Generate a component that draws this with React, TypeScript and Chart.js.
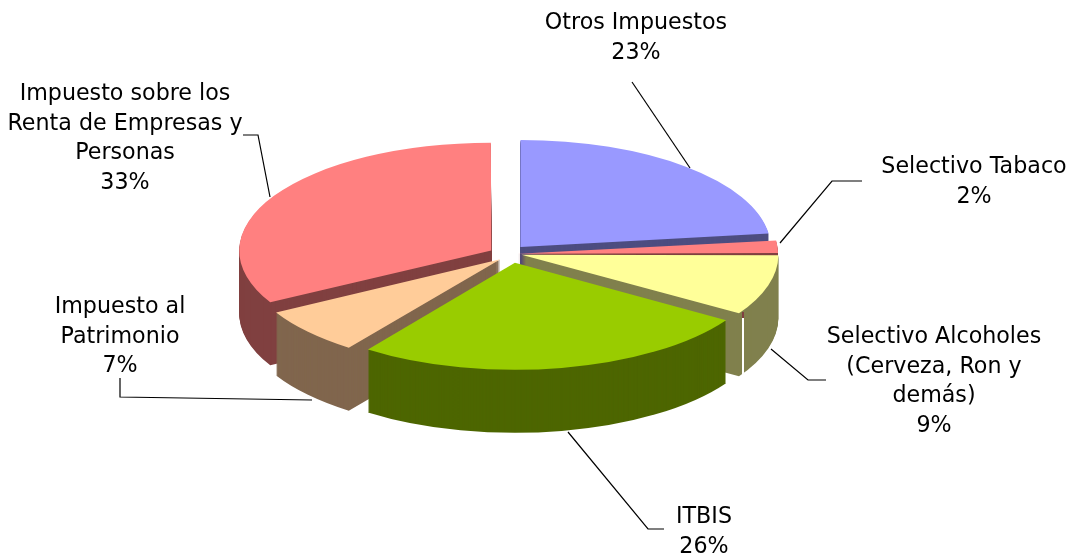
import React, { useEffect, useRef } from "react";
import { Chart, registerables } from "chart.js";

Chart.register(...registerables);

const categories = [
  ["Otros Impuestos"],
  ["Selectivo Tabaco"],
  ["Selectivo Alcoholes", "(Cerveza, Ron y", "demás)"],
  ["ITBIS"],
  ["Impuesto al", "Patrimonio"],
  ["Impuesto sobre los", "Renta de Empresas y", "Personas"],
];
const values = [23, 2, 9, 26, 7, 33];
const topColors = ["#9999FF", "#FF8080", "#FFFF99", "#99CC00", "#FFCC99", "#FF8080"];
const sideColors = ["#4D4D80", "#804040", "#80804D", "#4D6600", "#80664D", "#804040"];

// how far each slice is pulled out of the pie, in px of the round pie
const explode = [22, 22, 22, 21, 18, 18];
// small screen-space corrections that stand in for the original's perspective
const nudgeX = [0, 0, 1, 5, 3, -1];
const nudgeY = [0, 0, -1, 0, 2, 0];
// back-to-front painting order of the extruded walls
const wallOrder = [0, 1, 5, 2, 4, 3];

const SQUASH = 0.428;
const DEPTH = 63;
const RADIUS = 250;
const FONT = '22.2px "DejaVu Sans"';
const LINE_H = 29.8;

// label anchor: centre x, centre y of first line
const labelPos = [
  [636, 23],
  [974, 167],
  [934, 337],
  [704, 517],
  [120, 307],
  [125, 94],
];
const leaders = [
  [[632, 82], [690, 168]],
  [[862, 181], [832, 181], [780, 243]],
  [[826, 380], [808, 380], [771, 349]],
  [[664, 529], [648, 529], [568, 432]],
  [[120, 378], [120, 397], [312, 400]],
  [[243, 135], [258, 135], [270, 197]],
];

// Chart.js pushes an arc by offset/4 * (2 - sin(circumference))
const sliceOffsets = values.map((v, i) => {
  const c = (v / values.reduce((a, b) => a + b, 0)) * 2 * Math.PI;
  return (explode[i] * 4) / (2 - Math.sin(Math.min(Math.PI, c)));
});

const pie3d = {
  id: "pie3d",
  afterDatasetsUpdate(chart: any) {
    chart.getDatasetMeta(0).data.forEach((arc: any, i: number) => {
      arc.x += nudgeX[i];
      arc.y += nudgeY[i] / SQUASH;
    });
  },
  beforeDatasetsDraw(chart: any) {
    const { ctx } = chart;
    const arcs = chart.getDatasetMeta(0).data;
    const cx = arcs[0].x;
    const cy = arcs[0].y;
    const squash = (dy: number) => {
      ctx.translate(cx, cy + dy);
      ctx.scale(1, SQUASH);
      ctx.translate(-cx, -cy);
    };
    for (const i of wallOrder) {
      const ghost = Object.create(arcs[i], {
        options: {
          value: { ...arcs[i].options, backgroundColor: sideColors[i] },
          writable: true,
        },
      });
      for (let dy = DEPTH; dy >= 1; dy--) {
        ctx.save();
        squash(dy);
        ghost.draw(ctx);
        ctx.restore();
      }
    }
    ctx.save();
    squash(0);
  },
  afterDatasetsDraw(chart: any) {
    const { ctx } = chart;
    ctx.restore();
    ctx.save();
    // seam of the alcohol slice's wall
    ctx.fillStyle = "#FFFFFF";
    ctx.fillRect(742, 318, 2, 58);
    ctx.fillStyle = "#804040";
    ctx.fillRect(742, 312, 2, 6);
    ctx.strokeStyle = "#000000";
    ctx.lineWidth = 1.2;
    for (const pts of leaders) {
      ctx.beginPath();
      pts.forEach(([x, y], k) => (k ? ctx.lineTo(x, y) : ctx.moveTo(x, y)));
      ctx.stroke();
    }
    ctx.fillStyle = "#000000";
    ctx.font = FONT;
    ctx.textAlign = "center";
    ctx.textBaseline = "middle";
    categories.forEach((lines, i) => {
      const [x, y] = labelPos[i];
      [...lines, `${values[i]}%`].forEach((t, k) => ctx.fillText(t, x, y + k * LINE_H));
    });
    ctx.restore();
  },
};

export default function App() {
  const ref = useRef<HTMLCanvasElement>(null);
  useEffect(() => {
    const chart = new Chart(ref.current!, {
      type: "pie",
      data: {
        labels: categories.map((c) => c.join(" ")),
        datasets: [
          {
            data: values,
            backgroundColor: topColors,
            borderWidth: 0,
            offset: sliceOffsets,
            clip: false,
          } as any,
        ],
      },
      options: {
        responsive: false,
        animation: false,
        radius: RADIUS,
        layout: { padding: { right: 62, bottom: 51 } },
        plugins: { legend: { display: false }, tooltip: { enabled: false } },
      } as any,
      plugins: [pie3d],
    });
    return () => chart.destroy();
  }, []);
  return (
    <canvas
      ref={ref}
      width={1074}
      height={559}
      style={{ position: "absolute", left: 0, top: 0, width: 1074, height: 559 }}
    />
  );
}
